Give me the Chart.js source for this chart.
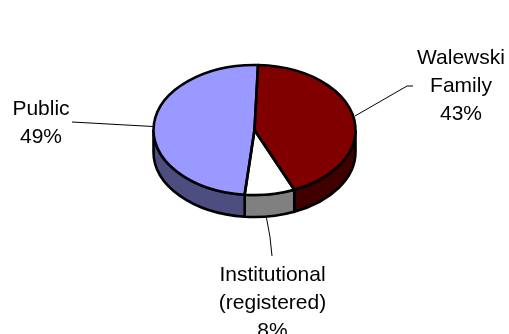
<!DOCTYPE html>
<html>
<head>
<meta charset="utf-8">
<title>Shareholders</title>
<script src="https://cdn.jsdelivr.net/npm/chart.js@4/dist/chart.umd.min.js"></script>
<style>
  html, body { margin: 0; padding: 0; background: #fff; overflow: hidden; }
  canvas { display: block; }
</style>
</head>
<body>
<canvas id="holders" width="509" height="334"></canvas>
<script>
const categories = ['Walewski Family', 'Institutional (registered)', 'Public'];
const shares = [43, 8, 49];
const labelLines = [['Walewski', 'Family'], ['Institutional', '(registered)'], ['Public']];
const topColors = ['#800000', '#FFFFFF', '#9999FF'];
const sideColors = ['#400000', '#808080', '#4D4D80'];

// tilt of the disc and height of its rim
const squash = 65 / 101;
const depth = 22;
const outline = 2.6;

// label anchors and leader lines, in canvas pixels
const labelPos = [
  { x: 461, y: 64 },
  { x: 272.5, y: 281 },
  { x: 41, y: 115 }
];
const leaders = [
  [[413, 86], [407, 86], [355, 116]],
  [[266.5, 218], [270, 237], [272, 256]],
  [[72, 122], [153, 126.5]]
];

const pie3d = {
  id: 'pie3d',
  beforeDatasetsDraw(chart) {
    const ctx = chart.ctx;
    const arcs = chart.getDatasetMeta(0).data;
    const { x, y } = arcs[0];
    ctx.save();
    ctx.lineWidth = outline;
    ctx.strokeStyle = '#000';
    // rim: only the front half of the disc shows
    arcs.forEach((arc, i) => {
      const from = Math.max(arc.startAngle, 0);
      const to = Math.min(arc.endAngle, Math.PI);
      if (to <= from) return;
      const r = arc.outerRadius;
      ctx.beginPath();
      ctx.ellipse(x, y, r, r * squash, 0, from, to);
      ctx.ellipse(x, y + depth, r, r * squash, 0, to, from, true);
      ctx.closePath();
      ctx.fillStyle = sideColors[i];
      ctx.fill();
      ctx.stroke();
    });
    ctx.restore();
    // squash the flat pie the library draws
    ctx.save();
    ctx.translate(0, y);
    ctx.scale(1, squash);
    ctx.translate(0, -y);
  },
  afterDatasetsDraw(chart) {
    const ctx = chart.ctx;
    ctx.restore();
    const arcs = chart.getDatasetMeta(0).data;
    ctx.save();
    ctx.lineWidth = outline;
    ctx.strokeStyle = '#000';
    ctx.lineJoin = 'round';
    arcs.forEach(arc => {
      const r = arc.outerRadius;
      ctx.beginPath();
      ctx.moveTo(arc.x, arc.y);
      ctx.ellipse(arc.x, arc.y, r, r * squash, 0, arc.startAngle, arc.endAngle);
      ctx.closePath();
      ctx.stroke();
    });
    ctx.restore();
  },
  afterDraw(chart) {
    const ctx = chart.ctx;
    ctx.save();
    ctx.strokeStyle = '#000';
    ctx.lineWidth = 1;
    leaders.forEach(pts => {
      ctx.beginPath();
      pts.forEach((p, i) => i ? ctx.lineTo(p[0], p[1]) : ctx.moveTo(p[0], p[1]));
      ctx.stroke();
    });
    ctx.fillStyle = '#000';
    ctx.font = '21px "Liberation Sans", Arial, sans-serif';
    ctx.textAlign = 'center';
    ctx.textBaseline = 'alphabetic';
    labelLines.forEach((lines, i) => {
      const rows = lines.concat(shares[i] + '%');
      rows.forEach((row, k) => ctx.fillText(row, labelPos[i].x, labelPos[i].y + k * 28));
    });
    ctx.restore();
  }
};

new Chart(document.getElementById('holders'), {
  type: 'pie',
  data: {
    labels: categories,
    datasets: [{
      data: shares,
      backgroundColor: topColors,
      borderWidth: 0
    }]
  },
  options: {
    responsive: false,
    animation: false,
    rotation: 2,
    layout: { padding: { left: 153.5, right: 153.5, top: 29, bottom: 103 } },
    plugins: {
      legend: { display: false },
      tooltip: { enabled: false }
    }
  },
  plugins: [pie3d]
});
</script>
</body>
</html>
